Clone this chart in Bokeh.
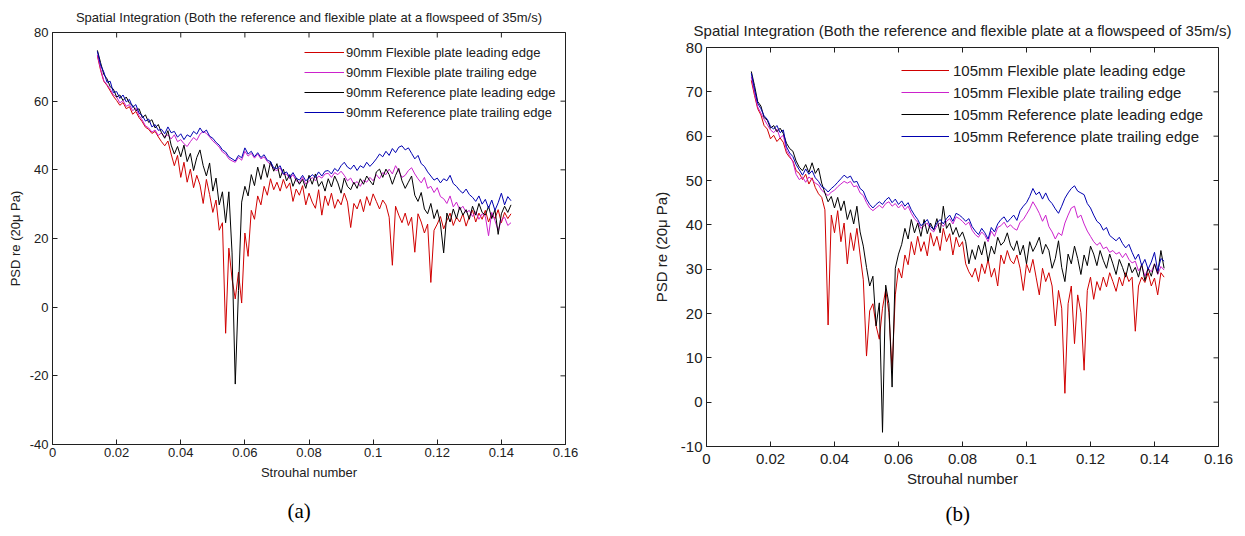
import math
from bokeh.plotting import figure
from bokeh.models import Range1d, FixedTicker, Legend, LegendItem, Title, Spacer
from bokeh.layouts import row, column
from bokeh.embed import file_html
from bokeh.resources import INLINE

# Strouhal sample grid shared by all series (0.014 ... 0.143)
STROUHAL = [round(0.014 + 0.001 * i, 3) for i in range(130)]

# ---------------- Panel (a): 90 mm ----------------
A_FLEX_LE = [
    73.2, 69.0, 65.8, 64.6, 63.0, 61.4, 60.2, 58.8, 59.6, 57.8,
    58.4, 56.2, 57.0, 55.2, 54.0, 52.4, 51.8, 50.6, 51.2, 49.6,
    48.2, 47.0, 48.4, 44.6, 41.2, 44.2, 37.8, 42.2, 36.4, 40.2,
    34.8, 38.4, 35.6, 30.2, 37.2, 32.8, 27.6, 31.2, 22.4, 24.6,
    -7.6, 17.2, 8.2, 2.4, 10.2, 1.2, 21.6, 14.8, 28.2, 25.6,
    32.4, 29.8, 35.2, 32.6, 37.4, 34.2, 36.4, 33.8, 37.2, 34.6,
    36.2, 30.8, 34.4, 32.6, 35.4, 29.8, 33.2, 30.6, 28.8, 34.2,
    26.8, 32.4, 29.6, 33.2, 28.8, 31.4, 29.8, 33.2, 30.6, 23.2,
    30.2, 28.6, 31.4, 27.8, 32.2, 29.6, 33.0, 30.8, 28.6, 31.2,
    29.8, 26.2, 12.2, 29.4, 26.8, 24.6, 27.4, 23.8, 26.2, 16.0,
    27.2, 24.8, 21.6, 24.2, 7.2, 22.4, 24.2, 26.4, 22.8, 25.2,
    27.4, 23.8, 26.2, 24.8, 27.2, 23.6, 26.4, 28.2, 24.8, 27.4,
    25.6, 28.2, 24.8, 27.2, 25.8, 28.4, 24.6, 27.6, 25.8, 27.2,
]
A_FLEX_TE = [
    73.5, 69.5, 66.0, 64.8, 63.5, 61.8, 61.2, 59.5, 60.2, 58.5,
    59.0, 57.2, 58.0, 55.8, 54.5, 52.8, 52.2, 51.0, 51.6, 50.0,
    50.8, 49.6, 50.2, 49.0, 50.2, 48.2, 48.8, 47.6, 46.8, 48.2,
    49.4, 48.6, 50.4, 51.2, 50.6, 49.6, 48.4, 47.6, 46.6, 45.2,
    44.6, 43.2, 42.6, 42.2, 43.6, 42.8, 45.4, 44.0, 44.8, 43.4,
    44.6, 43.2, 43.8, 42.4, 41.6, 40.2, 39.8, 40.6, 38.6, 38.8,
    37.4, 38.6, 36.8, 36.2, 37.8, 35.8, 36.6, 37.8, 36.8, 38.2,
    37.6, 38.8, 39.0, 37.8, 39.2, 38.6, 39.6, 38.4, 36.8, 37.6,
    35.8, 36.6, 35.2, 37.0, 36.4, 37.8, 36.8, 38.6, 37.4, 39.2,
    38.6, 40.2, 38.8, 41.2, 39.6, 37.8, 38.4, 39.8, 40.6, 38.8,
    37.4, 36.2, 37.8, 34.6, 35.2, 33.4, 34.8, 32.2, 31.6, 30.2,
    32.4, 29.2, 30.6, 28.4, 29.4, 27.6, 28.2, 26.4, 27.8, 25.6,
    27.2, 26.4, 20.8, 27.6, 25.2, 22.4, 25.4, 26.2, 23.8, 24.6,
]
A_REF_LE = [
    74.8, 71.2, 67.8, 66.5, 64.2, 63.5, 61.2, 61.8, 60.2, 61.2,
    59.4, 58.8, 57.2, 57.8, 55.2, 56.0, 53.8, 54.6, 52.2, 53.2,
    50.8, 49.2, 51.4, 47.2, 44.6, 46.8, 43.8, 47.2, 42.4, 44.8,
    39.8, 43.6, 45.8, 41.2, 38.2, 42.0, 33.8, 37.6, 29.8, 33.6,
    24.6, 33.6, 15.8, -22.4, 4.8, 30.6, 35.2, 32.4, 38.6, 35.4,
    40.8, 37.2, 41.6, 37.8, 42.4, 39.6, 41.8, 37.6, 40.2, 36.8,
    38.6, 35.2, 37.6, 35.8, 37.2, 34.6, 38.4, 35.8, 38.8, 35.2,
    36.6, 33.8, 37.4, 35.0, 38.2, 36.2, 33.2, 37.6, 35.2, 34.2,
    36.4, 34.6, 37.4, 35.8, 38.2, 36.8, 35.6, 39.4, 40.2, 37.8,
    40.2, 38.6, 35.8, 38.4, 40.4, 36.8, 34.6, 36.4, 38.2, 32.6,
    30.8, 33.4, 28.6, 27.2, 30.2, 25.8, 28.4, 24.2, 15.8, 27.4,
    24.8, 28.6, 25.8, 29.2, 26.8, 28.4, 25.6, 29.4, 26.8, 30.2,
    27.6, 26.8, 29.4, 25.8, 28.4, 21.2, 27.2, 29.4, 27.6, 29.8,
]
A_REF_TE = [
    74.5, 70.5, 68.5, 65.5, 65.8, 62.5, 62.8, 60.8, 61.8, 59.8,
    60.5, 58.2, 59.0, 56.5, 55.8, 54.2, 54.8, 52.5, 53.2, 51.5,
    51.8, 50.5, 52.5, 50.8, 51.2, 49.5, 50.5, 48.8, 50.2, 49.6,
    51.2, 50.4, 52.2, 50.8, 51.6, 49.8, 49.2, 48.0, 47.2, 45.8,
    45.2, 43.8, 43.2, 42.6, 44.2, 43.5, 46.4, 44.6, 45.4, 43.8,
    45.0, 43.6, 44.4, 42.8, 42.4, 40.6, 40.4, 41.2, 38.8, 39.4,
    37.8, 39.2, 37.6, 37.0, 38.4, 36.8, 37.6, 38.6, 37.8, 39.4,
    38.2, 39.6, 39.8, 38.8, 40.4, 39.6, 41.2, 42.2, 40.8, 40.2,
    41.4, 39.8, 41.2, 40.6, 42.2, 41.0, 42.0, 43.2, 44.6, 43.8,
    45.4, 44.2, 46.2, 45.0, 46.6, 47.0, 45.8, 46.4, 44.8, 43.2,
    44.2, 41.8, 41.0, 39.4, 38.2, 37.0, 37.6, 36.2, 37.4, 36.8,
    38.4, 36.0, 35.2, 34.0, 33.2, 34.4, 32.8, 32.0, 30.8, 32.4,
    30.0, 31.4, 28.8, 31.2, 28.2, 30.4, 33.2, 29.8, 32.2, 31.0,
]

# ---------------- Panel (b): 105 mm ----------------
B_FLEX_LE = [
    72.6, 69.2, 66.2, 64.8, 62.4, 61.6, 59.4, 60.2, 58.8, 59.6,
    58.6, 56.2, 55.2, 54.4, 52.2, 51.6, 50.2, 51.4, 49.2, 50.6,
    48.4, 47.0, 46.2, 43.4, 17.4, 42.2, 38.2, 43.2, 36.2, 40.4,
    31.2, 38.2, 34.2, 39.2, 33.2, 27.6, 10.4, 20.6, 22.2, 17.2,
    14.2, 21.2, 25.4, 20.2, 7.2, 24.2, 30.2, 28.0, 33.2, 31.0,
    36.2, 33.2, 37.4, 34.0, 36.2, 33.0, 38.2, 35.2, 37.4, 34.2,
    39.2, 36.2, 38.0, 33.2, 37.2, 35.0, 36.2, 31.2, 29.4, 28.2,
    30.2, 27.2, 31.2, 29.0, 32.2, 28.2, 30.2, 26.2, 33.2, 31.2,
    34.2, 32.0, 31.2, 33.2, 30.2, 25.2, 31.2, 29.2, 32.2, 28.2,
    24.2, 30.2, 27.2, 29.2, 26.2, 17.2, 25.2, 21.2, 2.0, 22.2,
    26.2, 13.2, 24.2, 20.2, 7.2, 25.2, 28.2, 23.2, 27.2, 25.2,
    28.2, 26.0, 29.2, 27.2, 25.0, 28.2, 26.2, 29.2, 27.2, 28.2,
    16.0, 26.2, 28.2, 27.0, 29.2, 26.2, 28.0, 24.2, 29.2, 28.2,
]
B_FLEX_TE = [
    73.4, 69.8, 66.6, 65.2, 63.8, 62.6, 61.4, 60.8, 61.6, 59.6,
    60.2, 56.8, 55.6, 54.2, 51.4, 50.2, 50.8, 49.6, 50.8, 50.2,
    49.4, 49.0, 47.8, 47.2, 46.6, 47.4, 47.8, 48.6, 49.2, 49.8,
    49.4, 49.8, 48.6, 48.8, 47.2, 46.6, 45.0, 43.8, 43.2, 43.8,
    44.4, 43.8, 44.8, 45.2, 44.2, 44.8, 43.8, 44.6, 43.4, 44.2,
    42.6, 41.4, 40.6, 39.2, 39.8, 40.4, 39.0, 38.4, 39.8, 40.4,
    39.6, 40.8, 41.4, 40.2, 41.8, 41.4, 40.8, 40.0, 40.6, 38.8,
    37.8, 37.2, 38.4, 37.6, 36.2, 38.6, 37.4, 39.4, 39.8, 40.6,
    39.4, 40.0, 39.2, 38.8, 40.6, 41.2, 42.4, 43.6, 45.2, 44.0,
    42.6, 40.8, 42.2, 39.6, 38.4, 36.8, 38.2, 37.6, 40.4, 42.2,
    43.8, 44.2, 41.6, 42.2, 40.2, 38.6, 37.4, 36.2, 35.4, 36.0,
    34.6, 35.0, 33.8, 34.2, 33.4, 33.8, 32.6, 33.6, 32.2, 31.4,
    31.8, 29.6, 30.8, 28.4, 30.2, 29.4, 31.2, 28.8, 30.6, 29.8,
]
B_REF_LE = [
    74.6, 71.4, 67.8, 66.8, 64.2, 63.6, 61.8, 62.4, 61.0, 61.8,
    60.6, 58.4, 57.2, 56.6, 54.4, 53.0, 52.2, 53.6, 51.8, 54.0,
    51.6, 52.8, 49.4, 47.2, 45.2, 46.4, 43.8, 46.2, 43.2, 45.4,
    41.2, 43.4, 40.2, 44.2, 38.4, 35.2, 30.4, 26.2, 28.4, 17.2,
    22.4, -6.8, 26.4, 22.2, 3.4, 30.2, 33.4, 35.6, 39.2, 36.8,
    41.2, 38.2, 40.4, 37.4, 41.2, 38.0, 40.4, 38.8, 41.4, 38.2,
    44.2, 39.2, 40.4, 37.8, 39.4, 37.2, 38.4, 36.2, 31.2, 34.4,
    32.2, 35.4, 33.2, 36.2, 31.8, 35.2, 33.4, 37.2, 35.4, 36.2,
    38.2, 35.4, 34.2, 36.4, 33.2, 35.4, 31.2, 36.2, 34.0, 35.4,
    37.2, 33.4, 35.6, 34.2, 30.2, 32.4, 36.4, 30.4, 27.2, 33.4,
    31.2, 35.2, 32.4, 28.8, 33.2, 30.8, 35.2, 33.4, 30.8, 34.2,
    32.0, 30.2, 33.4, 31.2, 28.8, 32.2, 30.4, 28.2, 31.4, 29.2,
    30.4, 28.2, 31.2, 27.4, 30.2, 28.4, 31.2, 29.0, 34.2, 30.2,
]
B_REF_TE = [
    74.2, 70.6, 67.4, 66.2, 64.6, 63.8, 62.2, 61.6, 62.4, 60.8,
    61.4, 57.6, 56.2, 55.4, 53.6, 52.4, 51.2, 52.6, 51.4, 52.2,
    50.6, 49.8, 48.6, 48.2, 47.4, 48.2, 48.8, 49.6, 50.4, 51.2,
    50.6, 51.0, 49.6, 49.8, 48.2, 47.6, 45.8, 44.6, 43.8, 44.6,
    45.2, 44.6, 45.6, 46.2, 45.0, 45.8, 44.6, 45.4, 44.2, 45.0,
    43.4, 42.2, 41.2, 39.8, 40.4, 41.2, 39.6, 39.0, 40.4, 41.2,
    40.2, 41.4, 42.2, 40.8, 42.6, 42.2, 41.6, 40.8, 41.4, 39.6,
    38.6, 37.8, 39.2, 38.2, 36.8, 39.4, 38.4, 40.2, 41.2, 41.8,
    40.6, 41.4, 42.2, 41.0, 43.2, 44.2, 45.0, 46.4, 48.2, 46.8,
    47.4, 45.8, 47.2, 45.6, 44.8, 43.6, 42.6, 44.2, 46.0, 47.2,
    48.2, 48.8, 47.6, 47.2, 46.8, 44.8, 43.8, 42.2, 40.8, 40.2,
    38.8, 39.4, 37.6, 37.0, 36.4, 37.2, 35.8, 34.8, 35.6, 33.8,
    32.2, 33.4, 30.8, 32.2, 30.0, 31.6, 33.8, 29.6, 32.4, 31.8,
]

TITLE = "Spatial Integration (Both the reference and flexible plate at a flowspeed of 35m/s)"
X_TICKS = [0.0, 0.02, 0.04, 0.06, 0.08, 0.1, 0.12, 0.14, 0.16]
X_TICK_LABELS = ["0", "0.02", "0.04", "0.06", "0.08", "0.1", "0.12", "0.14", "0.16"]
A_Y_TICKS = [-40, -20, 0, 20, 40, 60, 80]
A_Y_TICK_LABELS = ["-40", "-20", "0", "20", "40", "60", "80"]
B_Y_TICKS = [-10, 0, 10, 20, 30, 40, 50, 60, 70, 80]
B_Y_TICK_LABELS = ["-10", "0", "10", "20", "30", "40", "50", "60", "70", "80"]
A_NAMES = ["90mm Flexible plate leading edge", "90mm Flexible plate trailing edge",
           "90mm Reference plate leading edge", "90mm Reference plate trailing edge"]
B_NAMES = ["105mm Flexible plate leading edge", "105mm Flexible plate trailing edge",
           "105mm Reference plate leading edge", "105mm Reference plate trailing edge"]
COLORS = ["#d00000", "#cc22cc", "#000000", "#0000b0"]

FONT = "Liberation Sans"
INK = "#202020"


def make_panel(series, names, yticks, ylabels, yr, width, height, borders, fs,
               title_fs, title_standoff, leg, tag, tag_opts, x_standoffs, ylab_standoff):
    bl, br, bt, bb = borders
    p = figure(width=width, height=height, output_backend="svg", toolbar_location=None,
               x_range=Range1d(0, 0.16), y_range=Range1d(*yr),
               min_border_left=bl, min_border_right=br, min_border_top=bt,
               min_border_bottom=bb, background_fill_color="white",
               border_fill_color="white")
    p.grid.visible = False
    p.outline_line_color = INK
    p.outline_line_width = 1
    p.title.text = TITLE
    p.title.align = "center"
    p.title.text_font = FONT
    p.title.text_font_size = title_fs
    p.title.text_font_style = "normal"
    p.title.text_color = INK
    p.title.standoff = title_standoff

    xover = {t: l for t, l in zip(X_TICKS, X_TICK_LABELS)}
    yover = {t: l for t, l in zip(yticks, ylabels)}
    for ax, ticks, over, lab in ((p.xaxis[0], X_TICKS, xover, "Strouhal number"),
                                 (p.yaxis[0], yticks, yover, "PSD re (20\u03bc Pa)")):
        ax.ticker = FixedTicker(ticks=ticks)
        ax.major_label_overrides = over
        ax.axis_label = lab
        ax.axis_label_text_font = FONT
        ax.axis_label_text_font_size = fs
        ax.axis_label_text_font_style = "normal"
        ax.axis_label_text_color = INK
        ax.major_label_text_font = FONT
        ax.major_label_text_font_size = fs
        ax.major_label_text_color = INK
        ax.major_tick_in = 5
        ax.major_tick_out = 0
        ax.minor_tick_line_color = None
        ax.axis_line_color = INK
        ax.major_tick_line_color = INK
    p.xaxis.major_label_standoff = x_standoffs[0]
    p.xaxis.axis_label_standoff = x_standoffs[1]
    p.yaxis.major_label_standoff = 4
    p.yaxis.axis_label_standoff = ylab_standoff

    # inward ticks on the top and right edges of the box (outer half clipped by frame)
    p.scatter(X_TICKS, [yr[1]] * len(X_TICKS), marker="dash", angle=math.pi / 2,
              size=10, line_color=INK, line_width=1)
    p.scatter([0.16] * len(yticks), yticks, marker="dash", size=10,
              line_color=INK, line_width=1)

    items = []
    for ys, name, col in zip(series, names, COLORS):
        r = p.line(STROUHAL, ys, line_color=col, line_width=1)
        items.append(LegendItem(label=name, renderers=[r]))
    gw, rowh, lfs, lx, ly, stand = leg
    legend = Legend(items=items, location=(lx, ly), orientation="vertical",
                    padding=0, margin=0, spacing=0, glyph_width=gw,
                    glyph_height=rowh, label_height=rowh, label_standoff=stand,
                    label_text_font=FONT, label_text_font_size=lfs,
                    label_text_color=INK,
                    border_line_alpha=0, background_fill_alpha=0)
    p.add_layout(legend)
    standoff, offset = tag_opts
    p.add_layout(Title(text=tag, align="left", text_font="Liberation Serif",
                       text_font_size="21px", text_font_style="normal",
                       text_color="black", standoff=standoff, offset=offset), "below")
    return p


pa = make_panel([A_FLEX_LE, A_FLEX_TE, A_REF_LE, A_REF_TE], A_NAMES,
                A_Y_TICKS, A_Y_TICK_LABELS, (-40, 80), 620, 536, (52, 55, 31, 92),
                "13px", "13px", 15, (40, 20, "13px", 252, 322, 2), "(a)", (28, 235),
                (3, 5), 4)
pb = make_panel([B_FLEX_LE, B_FLEX_TE, B_REF_LE, B_REF_TE], B_NAMES,
                B_Y_TICKS, B_Y_TICK_LABELS, (-10, 80), 625, 526, (86, 27, 37, 90),
                "15px", "15px", 18, (48, 22, "15px", 195, 299, 4), "(b)", (20, 239),
                (7, 3), 8)

layout = row(pa, column(Spacer(width=625, height=10), pb))
open("out.html", "w").write(file_html(layout, INLINE))
